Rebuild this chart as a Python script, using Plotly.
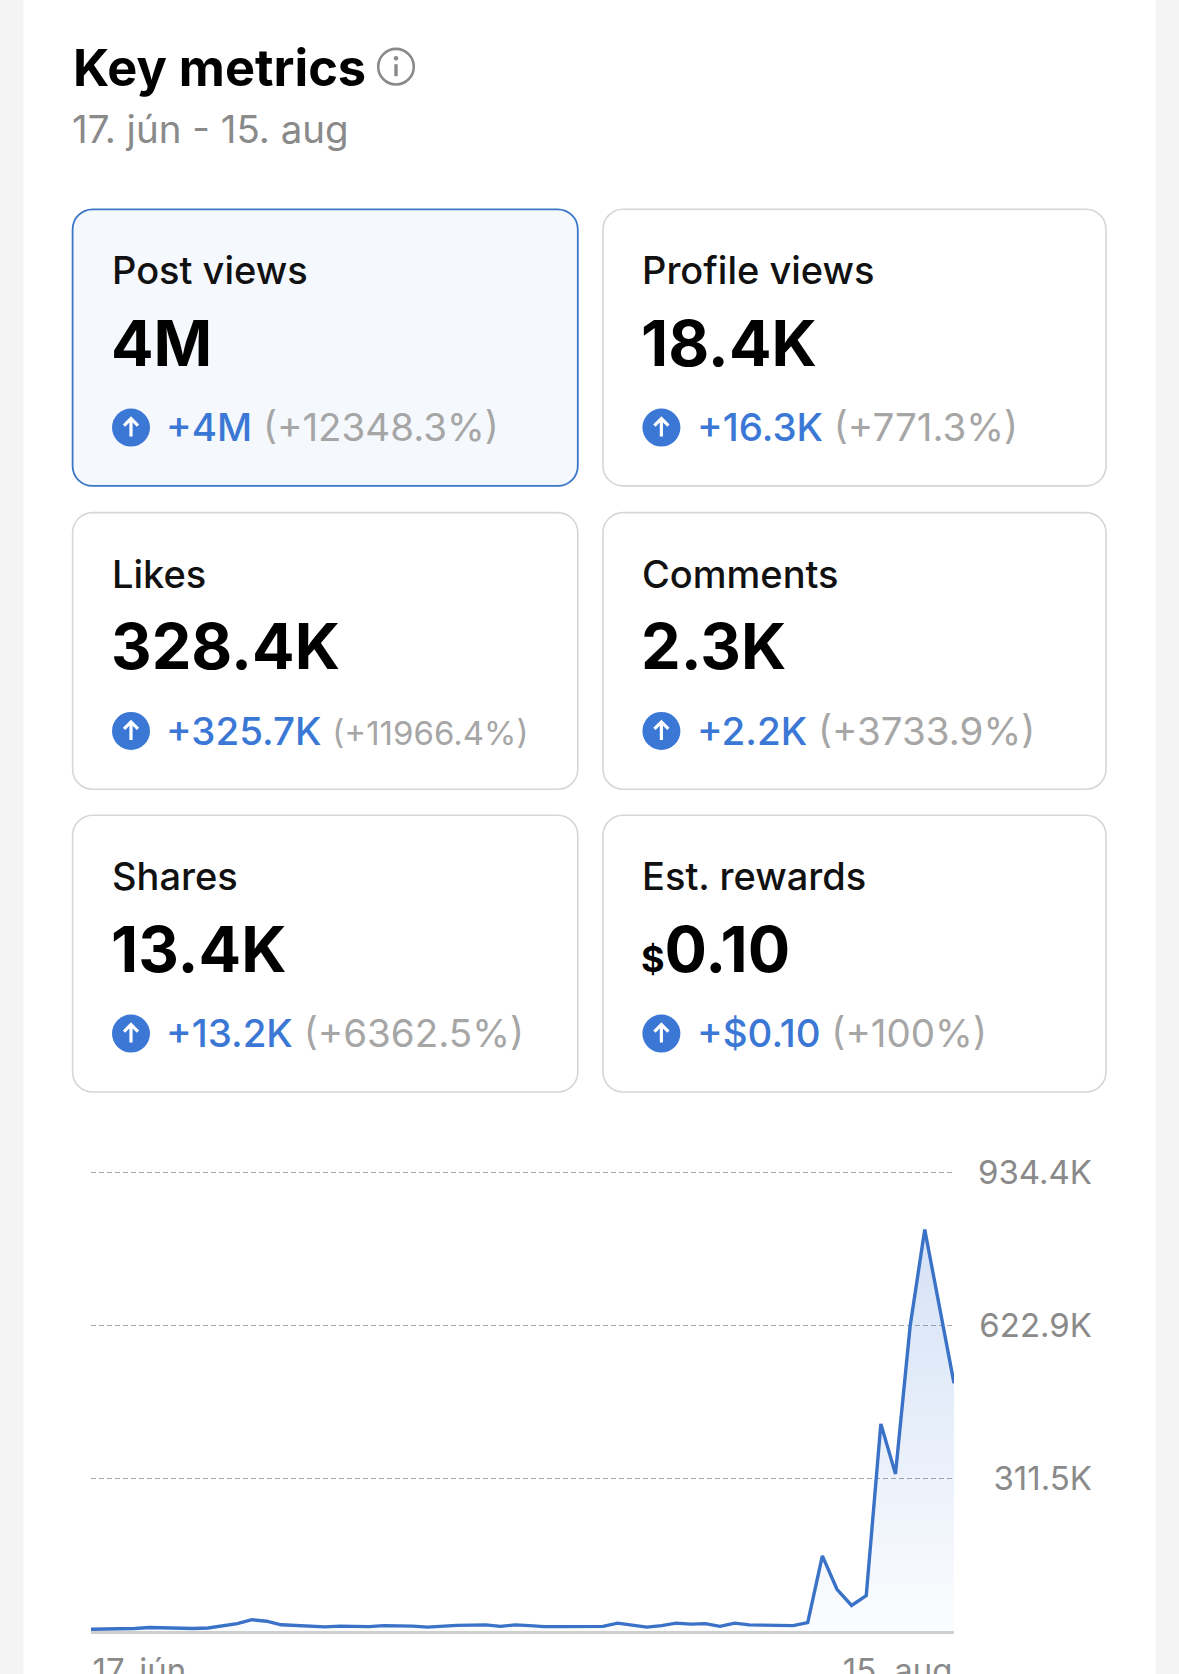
import plotly.graph_objects as go
import pandas as pd

W, H = 1179, 1674

# ---------------- data ----------------
title_text = "Key metrics"
subtitle_text = "17. jún - 15. aug"

card_labels = ["Post views", "Profile views", "Likes", "Comments", "Shares", "Est. rewards"]
card_values = ["4M", "18.4K", "328.4K", "2.3K", "13.4K", "$0.10"]
card_deltas = ["+4M", "+16.3K", "+325.7K", "+2.2K", "+13.2K", "+$0.10"]
card_pcts = ["(+12348.3%)", "(+771.3%)", "(+11966.4%)", "(+3733.9%)", "(+6362.5%)", "(+100%)"]
pct_sizes = [38.5, 38.5, 33, 38.5, 38.5, 38.5]

dates = pd.date_range("2024-06-17", "2024-08-15").strftime("%Y-%m-%d").tolist()
post_views_k = [3.7, 4, 5, 5, 7, 6, 6, 5, 6, 11,
                15, 23, 20, 12.6, 11, 9, 8.5, 10, 9.5, 9,
                11, 11, 10, 8, 10, 11.5, 12, 12.5, 9.5, 12.5,
                11, 9, 9, 9, 9, 9.5, 16, 12, 8, 11,
                16, 14, 15, 9.5, 16, 12.5, 12, 11.5, 11, 17,
                153, 85, 52, 72, 422, 320, 621, 818, 662, 505]
post_views = [v * 1000 for v in post_views_k]

y_tickvals = [311466, 622933, 934400]
y_ticktext = ["311.5K", "622.9K", "934.4K"]
y_top = 934400
x_ticktext = ["17. jún", "15. aug"]

# ---------------- helpers ----------------
def px(x):
    return x / W

def py(y):
    return 1 - y / H

def rrect_path(x0, y0, x1, y1, r):
    k = 0.5523 * r
    pts = [
        ("M", [(x0 + r, y0)]),
        ("L", [(x1 - r, y0)]),
        ("C", [(x1 - r + k, y0), (x1, y0 + r - k), (x1, y0 + r)]),
        ("L", [(x1, y1 - r)]),
        ("C", [(x1, y1 - r + k), (x1 - r + k, y1), (x1 - r, y1)]),
        ("L", [(x0 + r, y1)]),
        ("C", [(x0 + r - k, y1), (x0, y1 - r + k), (x0, y1 - r)]),
        ("L", [(x0, y0 + r)]),
        ("C", [(x0, y0 + r - k), (x0 + r - k, y0), (x0 + r, y0)]),
    ]
    s = ""
    for cmd, ps in pts:
        s += cmd + " ".join(f"{px(a):.6f},{py(b):.6f}" for a, b in ps) + " "
    return s + "Z"

def pth(points):
    s = ""
    for cmd, (a, b) in points:
        s += f"{cmd}{px(a):.6f},{py(b):.6f} "
    return s

FONT = "Inter"
shapes = []
annotations = []

# white panel
shapes.append(dict(type="rect", xref="paper", yref="paper", x0=px(23.5), x1=px(1155.6),
                   y0=0, y1=1, fillcolor="white", line=dict(width=0), layer="below"))

# title, subtitle, info icon
annotations.append(dict(text=title_text, x=px(71), y=py(67.5), xref="paper", yref="paper",
                        xanchor="left", yanchor="middle", showarrow=False,
                        font=dict(family=FONT, size=50.5, color="#000000", weight=700)))
annotations.append(dict(text=subtitle_text, x=px(70), y=py(129), xref="paper", yref="paper",
                        xanchor="left", yanchor="middle", showarrow=False,
                        font=dict(family=FONT, size=38.5, color="#8a8a8a")))
icx, icy, ir = 396, 66.7, 17.8
shapes.append(dict(type="circle", xref="paper", yref="paper", x0=px(icx - ir), x1=px(icx + ir),
                   y0=py(icy + ir), y1=py(icy - ir), line=dict(color="#8a8a8a", width=2.6),
                   fillcolor="rgba(0,0,0,0)", layer="above"))
shapes.append(dict(type="circle", xref="paper", yref="paper", x0=px(icx - 2.3), x1=px(icx + 2.3),
                   y0=py(icy - 6.2), y1=py(icy - 10.8), line=dict(width=0),
                   fillcolor="#8a8a8a", layer="above"))
shapes.append(dict(type="path", xref="paper", yref="paper",
                   path=pth([("M", (icx, icy - 2.5)), ("L", (icx, icy + 9.5))]),
                   line=dict(color="#8a8a8a", width=3.4), layer="above"))

# cards
col_x = [(72.6, 577.8), (603.0, 1106.0)]
row_y = [(209.3, 485.9), (512.6, 789.2), (815.3, 1092.0)]
BLUE = "#3b78d6"
for i in range(6):
    c, r = i % 2, i // 2
    x0, x1 = col_x[c]
    y0, y1 = row_y[r]
    sel = (i == 0)
    shapes.append(dict(type="path", xref="paper", yref="paper",
                       path=rrect_path(x0, y0, x1, y1, 20),
                       fillcolor="#f5f8fd" if sel else "#ffffff",
                       line=dict(color="#3c76c6" if sel else "#d6d6d6", width=1.8 if sel else 1.6),
                       layer="below"))
    # label
    annotations.append(dict(text=card_labels[i], x=px(x0 + 37), y=py(y0 + 61), xref="paper",
                            yref="paper", xanchor="left", yanchor="middle", showarrow=False,
                            font=dict(family=FONT, size=38, color="#111111", weight=500)))
    # value
    v = card_values[i]
    if v.startswith("$"):
        vtxt = "<span style='font-size:36px'>$</span>" + v[1:]
    else:
        vtxt = v
    annotations.append(dict(text=vtxt, x=px(x0 + 36), y=py(y0 + 133.5), xref="paper",
                            yref="paper", xanchor="left", yanchor="middle", showarrow=False,
                            font=dict(family=FONT, size=63, color="#000000", weight=700)))
    # delta
    dtxt = ("<span style='font-weight:500'>%s</span> "
            "<span style='color:#a6a6a6;font-size:%spx'>%s</span>"
            % (card_deltas[i], pct_sizes[i], card_pcts[i]))
    annotations.append(dict(text=dtxt, x=px(x0 + 91.5), y=py(y0 + 218), xref="paper",
                            yref="paper", xanchor="left", yanchor="middle", showarrow=False,
                            font=dict(family=FONT, size=38.5, color=BLUE)))
    cx, cy, cr = x0 + 58.4, y0 + 218.3, 19
    shapes.append(dict(type="circle", xref="paper", yref="paper", x0=px(cx - cr), x1=px(cx + cr),
                       y0=py(cy + cr), y1=py(cy - cr), fillcolor=BLUE, line=dict(width=0),
                       layer="above"))
    shapes.append(dict(type="path", xref="paper", yref="paper",
                       path=pth([("M", (cx, cy + 9)), ("L", (cx, cy - 8.5)),
                                 ("M", (cx - 7, cy - 2)), ("L", (cx, cy - 9)),
                                 ("L", (cx + 7, cy - 2))]),
                       line=dict(color="white", width=3.2), layer="above"))

# ---------------- chart ----------------
y0_px, ytop_px = 1631.0, 1172.4
pad = 1.01
y_range_max = y_top * pad
dom_top_px = y0_px - (y0_px - ytop_px) * pad

fig = go.Figure()
fig.add_trace(go.Scatter(
    x=dates, y=post_views, mode="lines",
    line=dict(color="#3a72c8", width=3.4),
    fill="tozeroy",
    fillgradient=dict(type="vertical",
                      colorscale=[[0, "rgba(59,120,212,0.02)"], [1, "rgba(59,120,212,0.22)"]]),
    hoverinfo="skip", showlegend=False))
fig.add_trace(go.Scatter(x=[dates[0]], y=[0], xaxis="x2", yaxis="y2", mode="markers",
                         marker=dict(opacity=0), hoverinfo="skip", showlegend=False))

tickfont = dict(family=FONT, size=33, color="#8a8a8a")
fig.update_layout(
    width=W, height=H, margin=dict(l=0, r=0, t=0, b=0, autoexpand=False),
    paper_bgcolor="#f4f4f4", plot_bgcolor="rgba(0,0,0,0)",
    font=dict(family=FONT),
    shapes=shapes, annotations=annotations, showlegend=False,
    xaxis=dict(domain=[px(91), px(954)], type="date", range=[dates[0], dates[-1]],
               tickvals=[dates[0]], ticktext=[x_ticktext[0]], ticklabelposition="outside right",
               ticks="", showgrid=False, zeroline=False, showline=True, linecolor="#cfcfcf",
               linewidth=3, layer="below traces", tickfont=tickfont, ticklabelstandoff=8,
               automargin=False, fixedrange=True),
    xaxis2=dict(overlaying="x", anchor="y", side="bottom", type="date",
                range=[dates[0], dates[-1]], tickvals=[dates[-1]], ticktext=[x_ticktext[1]],
                ticklabelposition="outside left", ticks="", showgrid=False, zeroline=False,
                showline=True, linecolor="rgba(0,0,0,0)", linewidth=3, layer="below traces",
                tickfont=tickfont, ticklabelstandoff=8, automargin=False, fixedrange=True),
    yaxis=dict(domain=[py(y0_px), py(dom_top_px)], range=[0, y_range_max], tickvals=y_tickvals,
               showticklabels=False, ticks="", showgrid=True, gridcolor="#a8a8a8",
               griddash="5px,3px", gridwidth=1.4, zeroline=False, showline=False,
               automargin=False, fixedrange=True),
    yaxis2=dict(overlaying="y", anchor="free", position=px(1092), side="left",
                range=[0, y_range_max], tickvals=y_tickvals, ticktext=y_ticktext, ticks="",
                showgrid=False, zeroline=False, showline=False, tickfont=tickfont,
                automargin=False, fixedrange=True),
)

fig.write_html("out.html", config={"displayModeBar": False},
               post_script="document.body.style.margin='0';document.body.style.overflow='hidden';")
